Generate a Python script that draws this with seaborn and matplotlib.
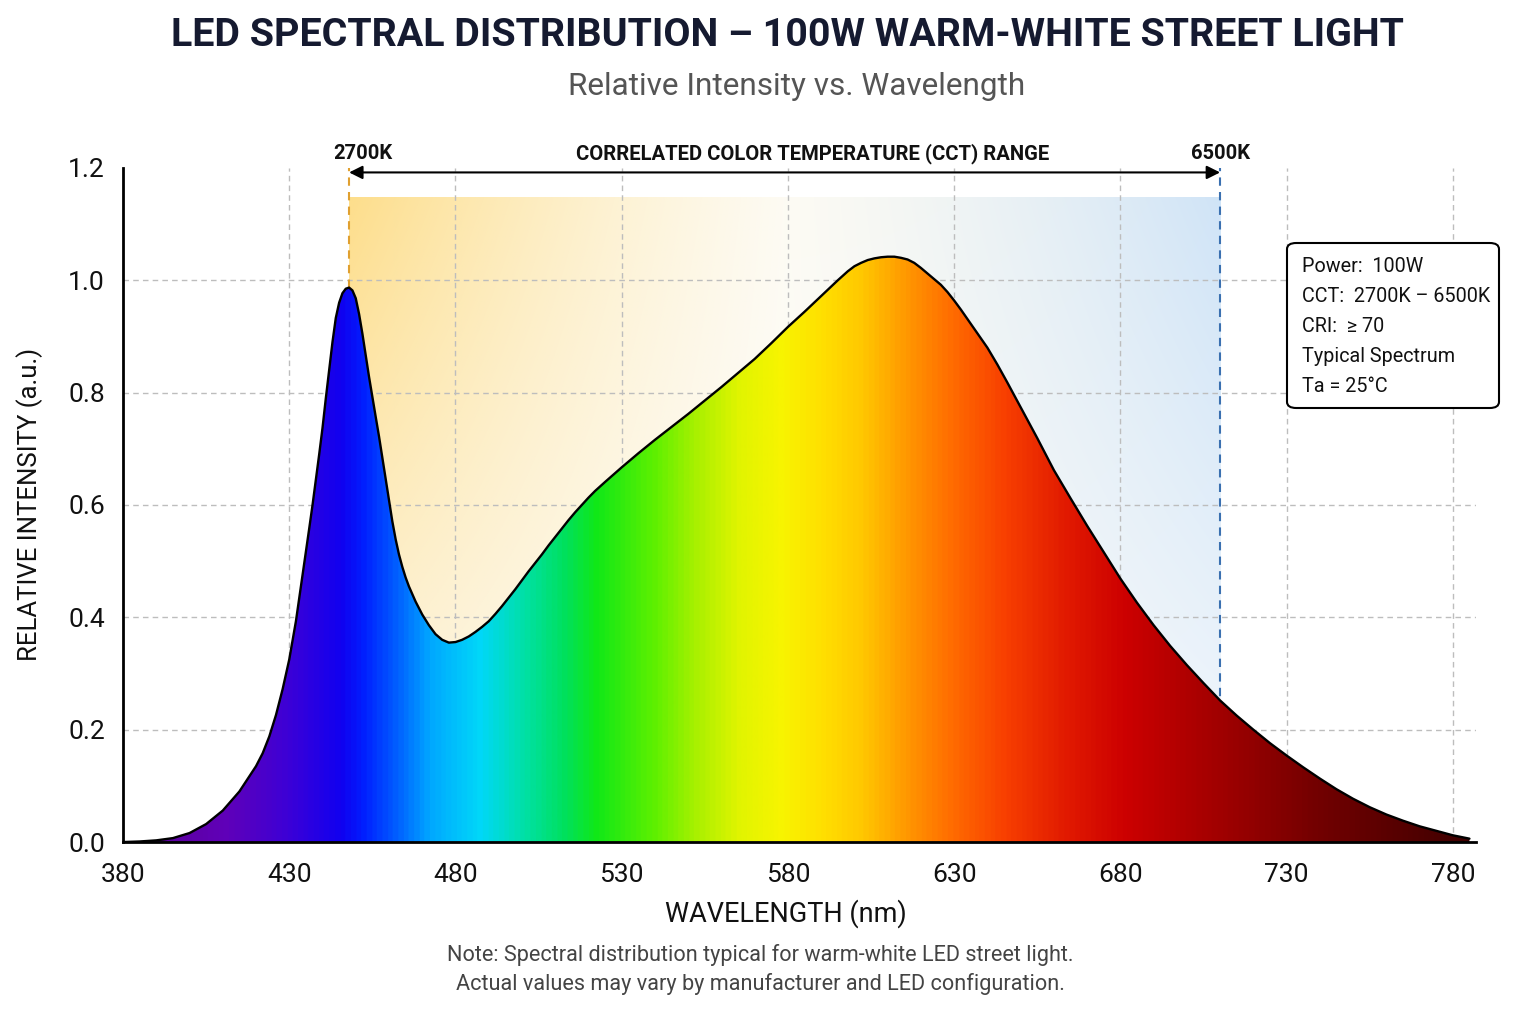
import numpy as np
import pandas as pd
import matplotlib
matplotlib.use("Agg")
import matplotlib.pyplot as plt
import seaborn as sns
from matplotlib.colors import LinearSegmentedColormap
from matplotlib.patches import Polygon, FancyBboxPatch

# ---------------- data ----------------
wavelength = [380, 385, 390, 395, 400, 405, 410, 415, 420, 422, 424, 426, 428, 430, 432, 434,
              436, 437, 438, 439, 440, 441, 442, 443, 444, 445, 446, 447, 448, 449, 450, 451,
              452, 453, 454, 455, 456, 457, 458, 459, 460, 461, 462, 463, 464, 465, 466, 468,
              470, 472, 474, 476, 478, 480, 482, 484, 486, 488, 490, 492, 494, 496, 498, 500,
              502, 504, 506, 508, 510, 512, 514, 516, 518, 520, 522, 525, 530, 535, 540, 545,
              550, 555, 560, 565, 570, 575, 580, 585, 590, 595, 598, 600, 602, 604, 606, 608,
              610, 612, 614, 616, 618, 620, 622, 624, 626, 628, 630, 632, 634, 636, 638, 640,
              643, 646, 650, 655, 660, 665, 670, 675, 680, 685, 690, 695, 700, 705, 710, 715,
              720, 725, 730, 735, 740, 745, 750, 755, 760, 765, 770, 775, 780, 785]
intensity = [0.000, 0.001, 0.003, 0.007, 0.016, 0.032, 0.056, 0.090, 0.135, 0.158, 0.188, 0.226,
             0.272, 0.325, 0.393, 0.475, 0.558, 0.600, 0.645, 0.690, 0.737, 0.790, 0.840, 0.890,
             0.933, 0.960, 0.977, 0.985, 0.987, 0.982, 0.968, 0.940, 0.905, 0.866, 0.828, 0.792,
             0.757, 0.722, 0.684, 0.645, 0.607, 0.571, 0.539, 0.512, 0.490, 0.471, 0.455, 0.428,
             0.405, 0.386, 0.370, 0.360, 0.355, 0.356, 0.360, 0.366, 0.374, 0.383, 0.393, 0.406,
             0.420, 0.435, 0.450, 0.466, 0.482, 0.497, 0.512, 0.528, 0.543, 0.558, 0.573, 0.587,
             0.600, 0.613, 0.625, 0.641, 0.667, 0.692, 0.716, 0.739, 0.762, 0.786, 0.810, 0.835,
             0.860, 0.888, 0.917, 0.944, 0.972, 1.000, 1.016, 1.025, 1.031, 1.036, 1.039, 1.041,
             1.042, 1.042, 1.040, 1.037, 1.031, 1.022, 1.012, 1.002, 0.992, 0.979, 0.964, 0.948,
             0.931, 0.914, 0.897, 0.880, 0.850, 0.818, 0.774, 0.719, 0.662, 0.612, 0.563, 0.516,
             0.469, 0.426, 0.386, 0.349, 0.315, 0.283, 0.252, 0.225, 0.200, 0.176, 0.154, 0.133,
             0.113, 0.094, 0.077, 0.062, 0.049, 0.038, 0.028, 0.020, 0.012, 0.006]

x_ticks = [380, 430, 480, 530, 580, 630, 680, 730, 780]
y_ticks = [0.0, 0.2, 0.4, 0.6, 0.8, 1.0, 1.2]
cct_low_nm = 448
cct_high_nm = 710
cct_labels = ["2700K", "6500K"]
info_lines = ["Power:  100W", "CCT:  2700K \u2013 6500K", "CRI:  \u2265 70", "Typical Spectrum", "Ta = 25\u00b0C"]

# spectral colour stops (nm, colour)
spec_nm = [380, 410, 430, 445, 452, 462, 472, 487, 500, 512, 522, 540, 552, 565, 578, 590,
           602, 615, 630, 645, 665, 682, 700, 720, 740, 770, 787]
spec_col = ["#5a0090", "#6000b8", "#3a00d8", "#1000f0", "#0020ff", "#0060ff", "#00a8ff",
            "#00d8f8", "#00e0a8", "#00e060", "#10e818", "#60f000", "#a8f000", "#e0f400",
            "#f8f400", "#ffe000", "#ffc800", "#ff9a00", "#ff6a00", "#f84000", "#e01800",
            "#cc0000", "#b00000", "#920000", "#720000", "#500000", "#3c0000"]

df = pd.DataFrame({"wavelength": wavelength, "intensity": intensity})

# ---------------- style ----------------
sns.set_theme(style="white")
plt.rcParams["font.family"] = ["Roboto", "DejaVu Sans"]

fig = plt.figure(figsize=(15.36, 10.24), dpi=100, facecolor="white")
ax = fig.add_axes([0.0801, 0.1777, 0.8809, 0.6583])
XMIN, XMAX = 380, 787
ax.set_xlim(XMIN, XMAX)
ax.set_ylim(0, 1.2)

# CCT background band
band_top = 1.147
nx, ny = 300, 200
u = np.linspace(0, 1, nx)[None, :]
v = np.linspace(0, 1, ny)[:, None]
warm = np.array([253, 222, 140]) / 255
mid = np.array([253, 250, 238]) / 255
cool = np.array([208, 228, 247]) / 255
white = np.array([253, 253, 253]) / 255
uu = np.repeat(u, ny, axis=0)[..., None]
base = np.where(uu < 0.5,
                warm * (1 - uu / 0.5) + mid * (uu / 0.5),
                mid * (1 - (uu - 0.5) / 0.5) + cool * ((uu - 0.5) / 0.5))
f = (0.2 + 0.8 * np.repeat(v, nx, axis=1))[..., None]
f = f * (1 - 0.35 * np.clip(1 - np.abs(uu - 0.5) * 2, 0, 1))
rgb = white * (1 - f) + base * f
ax.imshow(rgb, extent=[cct_low_nm, cct_high_nm, 0, band_top], origin="lower",
          aspect="auto", zorder=0.5, interpolation="bilinear")

# grid
for xt in x_ticks[1:]:
    ax.plot([xt, xt], [0, 1.2], ls=(0, (4, 3)), color="#bdbdbd", lw=1.0, zorder=1)
for yt in y_ticks[1:-1]:
    ax.plot([XMIN, XMAX], [yt, yt], ls=(0, (4, 3)), color="#bdbdbd", lw=1.0, zorder=1)

# CCT dashed lines
ax.plot([cct_low_nm, cct_low_nm], [0, 1.2], ls=(0, (4, 3)), color="#e0a030", lw=1.5, zorder=1.5)
ax.plot([cct_high_nm, cct_high_nm], [0, 1.2], ls=(0, (4, 3)), color="#3a70b0", lw=1.5, zorder=1.5)

# spectral gradient fill clipped to curve
cmap = LinearSegmentedColormap.from_list(
    "spec", [((n - XMIN) / (XMAX - XMIN), c) for n, c in zip(spec_nm, spec_col)])
grad = np.linspace(0, 1, 1200)[None, :]
im = ax.imshow(grad, extent=[XMIN, XMAX, 0, 1.2], origin="lower", aspect="auto",
               cmap=cmap, zorder=2, interpolation="bilinear")
verts = list(zip(df["wavelength"], df["intensity"])) + [(df["wavelength"].iloc[-1], 0),
                                                       (df["wavelength"].iloc[0], 0)]
clip = Polygon(verts, closed=True, facecolor="none", edgecolor="none", transform=ax.transData)
ax.add_patch(clip)
im.set_clip_path(clip)

sns.lineplot(data=df, x="wavelength", y="intensity", color="black", lw=1.7, ax=ax, zorder=3)
for ln in ax.lines[-1:]:
    ln.set_solid_joinstyle("round")

ax.set_xlim(XMIN, XMAX)
ax.set_ylim(0, 1.2)

# CCT arrow and labels
ax.annotate("", xy=(cct_low_nm, 1.192), xytext=(cct_high_nm, 1.192),
            arrowprops=dict(arrowstyle="<|-|>", color="black", lw=1.5,
                            mutation_scale=20, shrinkA=0, shrinkB=0),
            annotation_clip=False, zorder=4)
ax.text(cct_low_nm + 4, 1.226, cct_labels[0], ha="center", va="center", fontsize=14.5,
        fontweight="bold", color="#111111")
ax.text(cct_high_nm, 1.226, cct_labels[1], ha="center", va="center", fontsize=14.5,
        fontweight="bold", color="#111111")
ax.text(587.5, 1.226, "CORRELATED COLOR TEMPERATURE (CCT) RANGE", ha="center", va="center",
        fontsize=14.6, fontweight="bold", color="#111111")

# axes styling
ax.set_xticks(x_ticks)
ax.set_yticks(y_ticks)
ax.set_xticklabels([str(t) for t in x_ticks])
ax.set_yticklabels([f"{t:.1f}" for t in y_ticks])
ax.tick_params(axis="both", which="major", length=7, width=1.5, color="black",
               labelsize=19, labelcolor="#111111", direction="out", pad=6)
ax.tick_params(axis="x", pad=8)
for s in ["top", "right"]:
    ax.spines[s].set_visible(False)
for s in ["left", "bottom"]:
    ax.spines[s].set_color("black")
    ax.spines[s].set_linewidth(2.0)
ax.set_xlabel("")
ax.set_ylabel("")
ax.set_facecolor("none")

fig.text(0.5115, 0.1075, "WAVELENGTH (nm)", ha="center", va="center", fontsize=19.5, color="#111111")
fig.text(0.0195, 0.507, "RELATIVE INTENSITY (a.u.)", ha="center", va="center", fontsize=18.5,
         rotation=90, color="#111111")

# titles
fig.text(0.5125, 0.965, "LED SPECTRAL DISTRIBUTION \u2013 100W WARM-WHITE STREET LIGHT",
         ha="center", va="center", fontsize=28.4, fontweight="bold", color="#151a30")
fig.text(0.5185, 0.916, "Relative Intensity vs. Wavelength", ha="center", va="center",
         fontsize=22.7, color="#555555")

# info box
box = FancyBboxPatch((1287 / 1536, 1 - 408 / 1024), (1499 - 1287) / 1536, (408 - 243) / 1024,
                     boxstyle="round,pad=0,rounding_size=0.006", transform=fig.transFigure,
                     facecolor="white", edgecolor="black", lw=1.5, zorder=5)
fig.add_artist(box)
for i, line in enumerate(info_lines):
    fig.text(1302 / 1536, 1 - (267 + 30 * i) / 1024, line, ha="left", va="center",
             fontsize=14.2, color="#111111", zorder=6)

# note
fig.text(0.495, 0.067, "Note: Spectral distribution typical for warm-white LED street light.",
         ha="center", va="center", fontsize=15.6, color="#444444")
fig.text(0.495, 0.039, "Actual values may vary by manufacturer and LED configuration.",
         ha="center", va="center", fontsize=15.6, color="#444444")

fig.savefig("out.png", dpi=100, facecolor="white")
